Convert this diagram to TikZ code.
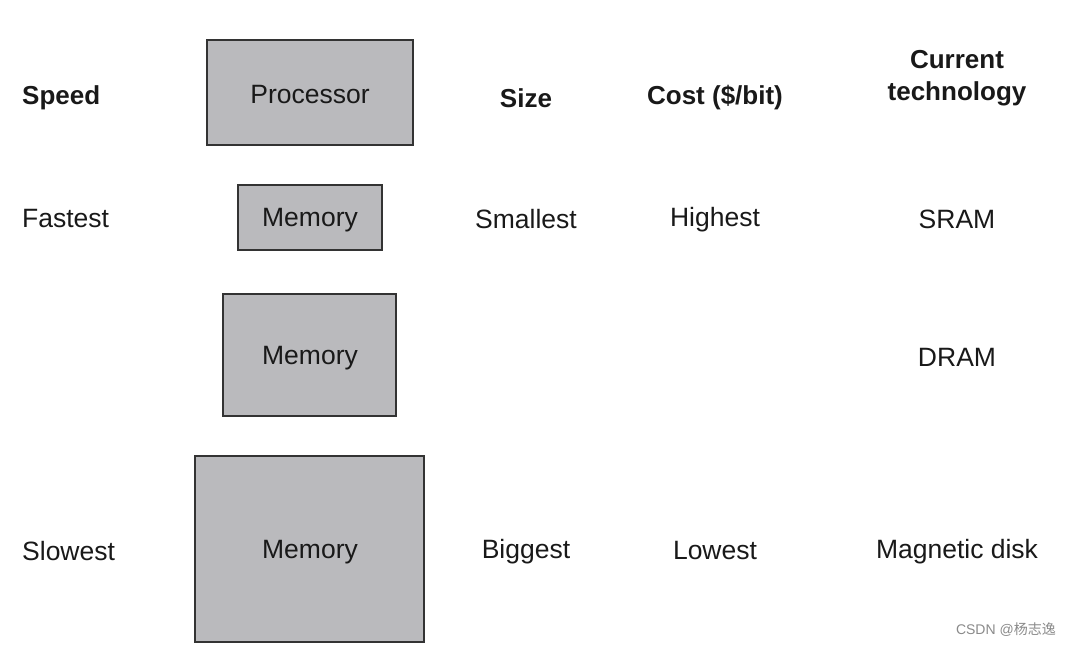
\documentclass[tikz,border=0pt]{standalone}
\usepackage{fontspec}
\setmainfont{Liberation Sans}
\newfontfamily\cjk{Noto Sans CJK SC}
\definecolor{boxfill}{HTML}{BABABD}
\definecolor{boxline}{HTML}{333333}
\definecolor{wm}{HTML}{8A8A8A}
\begin{document}
\begin{tikzpicture}[x=1pt,y=-1pt,
  memblock/.style={draw=boxline,line width=1.5pt,fill=boxfill,inner sep=0pt},
  lbl/.style={font=\fontsize{26.5}{30}\selectfont,text=black!90,inner sep=0pt},
  hdr/.style={font=\fontsize{26}{32}\selectfont\bfseries,text=black!90,inner sep=0pt,align=center}]
\useasboundingbox (0,0) rectangle (1071,646);
\fill[white] (0,0) rectangle (1071,646);
% boxes
\draw[memblock] (207,40) rectangle (413,145);
\draw[memblock] (238,185) rectangle (382,250);
\draw[memblock] (223,294) rectangle (396,416);
\draw[memblock] (195,456) rectangle (424,642);
\node[lbl] (proc) at (310,95) {Processor};
\node[lbl] (m1) at (310,220) {Memory};
\node[lbl] (m2) at (310,358) {Memory};
\node[lbl] (m3) at (310,552) {Memory};
% headers
\node[hdr,anchor=west] (speed) at (22,98) {Speed};
\node[hdr] (size) at (526,98) {Size};
\node[hdr] (cost) at (715,98) {Cost (\$/bit)};
\node[hdr] (tech) at (957,78) {Current\\technology};
% rows
\node[lbl,anchor=west] (fast) at (22,219) {Fastest};
\node[lbl] (small) at (526,219) {Smallest};
\node[lbl] (high) at (715,220) {Highest};
\node[lbl] (sram) at (957,219) {SRAM};
\node[lbl] (dram) at (957,357) {DRAM};
\node[lbl,anchor=west] (slow) at (22,551) {Slowest};
\node[lbl] (big) at (526,552) {Biggest};
\node[lbl] (low) at (715,551) {Lowest};
\node[lbl] (disk) at (957,552) {Magnetic disk};
% watermark
\node[anchor=east,text=wm,font=\fontsize{14}{16}\selectfont,inner sep=0pt] (wmk) at (1056,630) {CSDN @{\cjk 杨志逸}};
\end{tikzpicture}
\end{document}
